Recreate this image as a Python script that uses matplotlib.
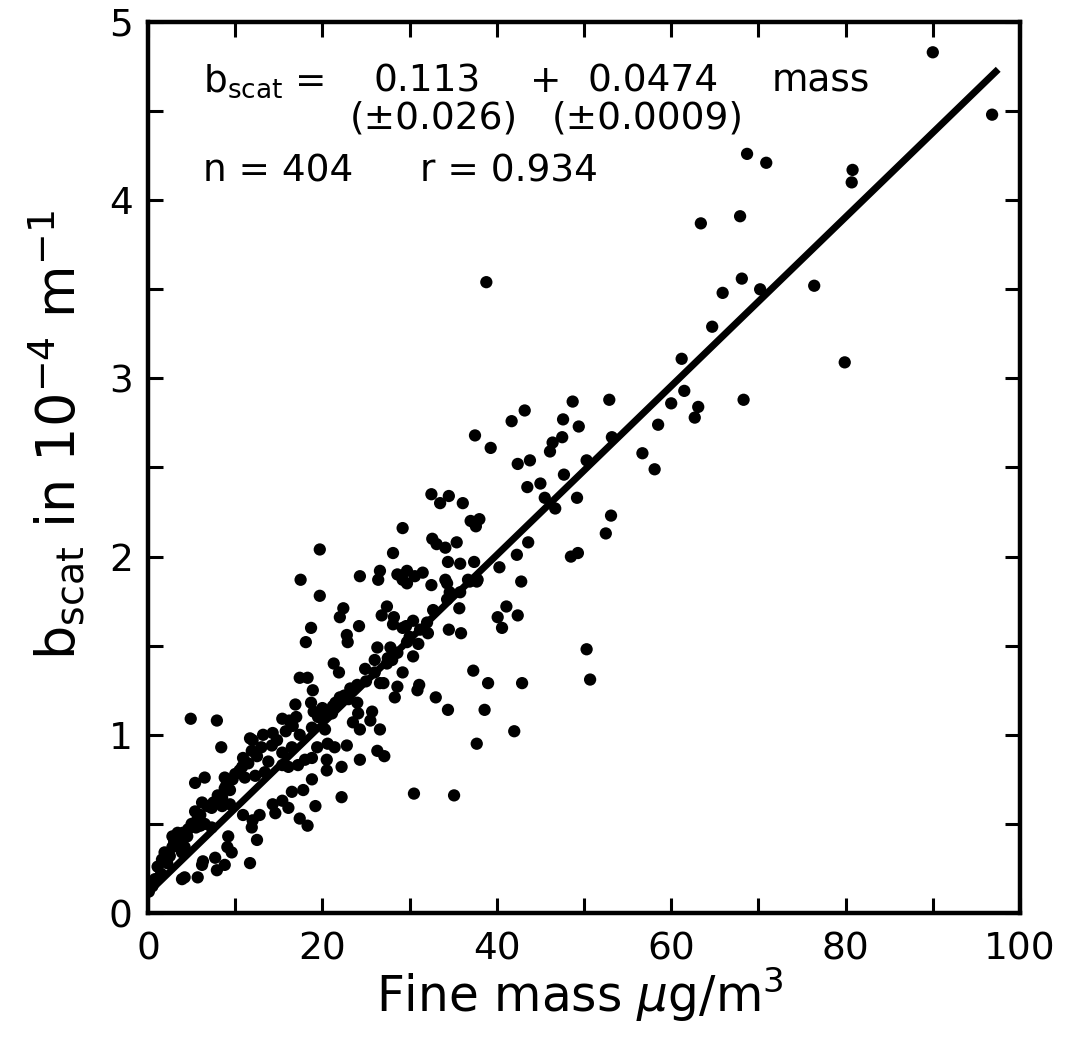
import matplotlib
matplotlib.use("Agg")
import matplotlib.pyplot as plt
import numpy as np

# ---- data ----
fine_mass = [
    90.0, 96.8, 68.7, 70.9, 80.8, 80.7, 63.4, 67.9, 68.1, 65.9, 70.2, 76.4, 64.7, 61.2, 79.9,
    52.9, 61.5, 60.0, 63.1, 62.7, 68.3, 58.5, 53.2, 38.8,
    48.7, 47.6, 49.4, 47.5, 50.3, 56.7, 58.1, 47.7, 49.2, 53.1, 52.5, 49.3, 48.5,
    43.2, 41.7, 37.5, 39.3, 46.4, 46.1, 42.4, 43.8, 43.5, 45.0, 45.5, 46.7, 32.5, 34.5, 33.5,
    36.1, 37.0, 38.0, 37.6, 29.2, 32.6, 33.1, 34.1, 35.4, 34.4, 35.8, 37.4, 43.6, 42.3, 40.3,
    29.7, 29.2, 31.5, 30.6, 32.5, 34.1, 34.3, 36.9, 37.8, 42.8,
    41.1, 40.1, 40.6, 42.4, 35.7, 34.5, 35.9, 32.1, 31.0, 30.4, 29.2, 31.1, 30.9, 33.0, 34.4,
    37.3, 39.0, 42.9, 38.6, 42.0, 37.7, 50.3, 50.7, 30.5, 35.1,
    19.7, 28.1, 17.5, 24.3, 26.6, 26.4, 28.6, 29.7, 19.7, 22.4, 22.0, 27.4, 26.8, 28.2, 28.1,
    18.7, 24.2, 22.8, 22.9, 29.6, 18.1, 26.3, 27.8, 21.3, 21.9, 24.9, 26.0, 27.4, 17.4, 18.3,
    18.9, 18.7, 16.9, 23.2, 24.0, 26.6, 28.6, 27.0, 28.3, 24.0, 24.1, 25.7, 19.7, 15.4,
    4.9, 7.9, 8.4, 16.6, 18.8, 19.5, 21.1, 20.3, 17.4, 16.5, 15.4, 14.2, 13.2, 14.3, 12.0,
    11.9, 10.9, 10.8, 13.8, 13.4, 12.3, 11.1, 9.7, 8.8, 8.8, 8.5, 9.4, 5.4, 6.5, 6.2, 7.3,
    8.5, 9.4, 5.4, 5.7, 6.5, 7.3, 6.0, 4.6, 3.4, 2.8, 2.8, 1.9, 1.6, 1.1, 0.8, 0.5, 0.1,
    3.4, 3.9, 4.2,
    18.0, 18.8, 17.2, 16.1, 15.4, 20.5, 20.5, 19.4, 20.6, 21.4, 22.2, 22.2, 18.8, 17.8, 16.5,
    15.4, 14.3, 14.6, 16.1, 19.2, 17.4, 18.3, 12.8, 12.0, 12.5, 10.9, 11.9, 9.2, 9.1, 9.6,
    7.7, 8.8, 7.9, 6.3, 6.2, 11.7, 5.7, 3.9, 4.2,
    22.8, 23.5, 24.3, 25.5, 26.6, 26.3, 27.1, 24.3,
    34.6, 29.2, 30.4, 32.7, 34.3, 35.8, 36.7, 37.7,
    21.2, 22.0, 20.1, 28.6, 29.7, 31.2, 32.0, 11.7,
    1.5, 2.2, 2.5, 3.0, 3.6, 4.0, 4.5, 5.0, 5.5, 6.0, 6.8, 7.5, 8.0, 9.0, 10.0, 10.5,
    11.5, 12.5, 13.0, 14.8, 15.8, 16.2, 17.0, 19.0, 20.0,
    21.5, 22.5, 23.0, 25.0, 26.0, 27.5, 28.0, 30.0,
]
b_scat = [
    4.83, 4.48, 4.26, 4.21, 4.17, 4.10, 3.87, 3.91, 3.56, 3.48, 3.50, 3.52, 3.29, 3.11, 3.09,
    2.88, 2.93, 2.86, 2.84, 2.78, 2.88, 2.74, 2.67, 3.54,
    2.87, 2.77, 2.73, 2.67, 2.54, 2.58, 2.49, 2.46, 2.33, 2.23, 2.13, 2.02, 2.00,
    2.82, 2.76, 2.68, 2.61, 2.64, 2.59, 2.52, 2.54, 2.39, 2.41, 2.33, 2.27, 2.35, 2.34, 2.30,
    2.30, 2.20, 2.21, 2.17, 2.16, 2.10, 2.07, 2.05, 2.08, 1.97, 1.96, 1.97, 2.08, 2.01, 1.94,
    1.92, 1.87, 1.91, 1.89, 1.84, 1.87, 1.85, 1.86, 1.87, 1.86,
    1.72, 1.66, 1.60, 1.67, 1.71, 1.59, 1.57, 1.57, 1.51, 1.44, 1.35, 1.28, 1.25, 1.21, 1.14,
    1.36, 1.29, 1.29, 1.14, 1.02, 0.95, 1.48, 1.31, 0.67, 0.66,
    2.04, 2.02, 1.87, 1.89, 1.92, 1.87, 1.90, 1.85, 1.78, 1.71, 1.66, 1.72, 1.67, 1.66, 1.62,
    1.60, 1.61, 1.56, 1.52, 1.61, 1.52, 1.49, 1.49, 1.40, 1.35, 1.37, 1.42, 1.40, 1.32, 1.32,
    1.25, 1.18, 1.17, 1.26, 1.28, 1.29, 1.27, 1.29, 1.21, 1.18, 1.12, 1.13, 1.11, 1.09,
    1.09, 1.08, 0.93, 1.05, 1.04, 1.10, 1.12, 1.03, 1.00, 0.93, 0.90, 0.94, 1.00, 1.01, 0.97,
    0.91, 0.87, 0.82, 0.85, 0.79, 0.77, 0.76, 0.75, 0.76, 0.70, 0.65, 0.69, 0.73, 0.76, 0.62, 0.59,
    0.60, 0.61, 0.57, 0.53, 0.50, 0.48, 0.49, 0.47, 0.45, 0.43, 0.37, 0.34, 0.30, 0.26, 0.19, 0.15, 0.12,
    0.39, 0.34, 0.37,
    0.86, 0.87, 0.83, 0.82, 0.83, 0.86, 0.80, 0.93, 0.95, 0.93, 0.82, 0.65, 0.75, 0.69, 0.68,
    0.63, 0.61, 0.56, 0.59, 0.60, 0.53, 0.49, 0.55, 0.52, 0.41, 0.55, 0.48, 0.43, 0.37, 0.34,
    0.31, 0.27, 0.24, 0.29, 0.27, 0.28, 0.20, 0.19, 0.20,
    0.94, 1.07, 1.03, 1.08, 1.03, 0.91, 0.88, 0.86,
    1.80, 1.60, 1.64, 1.70, 1.76, 1.80, 1.87, 1.86,
    1.16, 1.21, 1.10, 1.46, 1.52, 1.59, 1.63, 0.98,
    0.22, 0.28, 0.32, 0.40, 0.42, 0.45, 0.43, 0.50, 0.48, 0.55, 0.60, 0.62, 0.66, 0.72, 0.78, 0.80,
    0.84, 0.88, 0.93, 0.97, 1.02, 1.08, 1.10, 1.13, 1.15,
    1.18, 1.22, 1.20, 1.30, 1.35, 1.43, 1.42, 1.55,
]
intercept = 0.113
slope = 0.0474
fit_x = [0.0, 97.5]

x_ticks = [0, 10, 20, 30, 40, 50, 60, 70, 80, 90, 100]
x_ticklabels = ["0", "", "20", "", "40", "", "60", "", "80", "", "100"]
y_ticks = [0, 0.5, 1, 1.5, 2, 2.5, 3, 3.5, 4, 4.5, 5]
y_ticklabels = ["0", "", "1", "", "2", "", "3", "", "4", "", "5"]

# ---- figure ----
plt.rcParams['font.family'] = ['DejaVu Sans']
W, H = 1066, 1042
fig = plt.figure(figsize=(W / 100, H / 100), dpi=100)
ax = fig.add_axes([148 / W, 1 - 913 / H, 872 / W, 891 / H])

ax.scatter(fine_mass, b_scat, s=78, color='black', edgecolors='none', zorder=3)
fx = np.array(fit_x)
ax.plot(fx, intercept + slope * fx, color='black', lw=5, solid_capstyle='butt', zorder=4)

ax.set_xlim(0, 100)
ax.set_ylim(0, 5)
ax.set_xticks(x_ticks)
ax.set_xticklabels(x_ticklabels)
ax.set_yticks(y_ticks)
ax.set_yticklabels(y_ticklabels)
ax.tick_params(axis='both', direction='in', length=11, width=2.2, top=True, right=True,
               labelsize=27, colors='black')
ax.tick_params(axis='x', pad=13)
ax.tick_params(axis='y', pad=11)
for sp in ax.spines.values():
    sp.set_linewidth(3.2)

def fx_(px):
    return px / W

def fy_(py):
    return 1 - py / H

fs = 27
fig.text(fx_(203), fy_(92), r'b$_{\mathregular{scat}}$ =', fontsize=fs, ha='left', va='baseline')
fig.text(fx_(373), fy_(92), '0.113', fontsize=fs, ha='left', va='baseline')
fig.text(fx_(530), fy_(92), '+', fontsize=fs, ha='left', va='baseline')
fig.text(fx_(588), fy_(92), '0.0474', fontsize=fs, ha='left', va='baseline')
fig.text(fx_(772), fy_(92), 'mass', fontsize=fs, ha='left', va='baseline')
fig.text(fx_(350), fy_(128), '(\u00b10.026)', fontsize=fs, ha='left', va='baseline')
fig.text(fx_(552), fy_(128), '(\u00b10.0009)', fontsize=fs, ha='left', va='baseline')
fig.text(fx_(203), fy_(182), 'n = 404', fontsize=fs, ha='left', va='baseline')
fig.text(fx_(420), fy_(182), 'r = 0.934', fontsize=fs, ha='left', va='baseline')

fig.text(fx_(56), fy_(435), r'b$_{\mathregular{scat}}$ in 10$^{\mathregular{-4}}$ m$^{\mathregular{-1}}$',
         fontsize=39, rotation=90, ha='center', va='center')
fig.text(fx_(580), fy_(1012), r'Fine mass $\mu$g/m$^{\mathregular{3}}$', fontsize=35,
         ha='center', va='baseline')

fig.savefig('out.png', dpi=100, facecolor='white')
